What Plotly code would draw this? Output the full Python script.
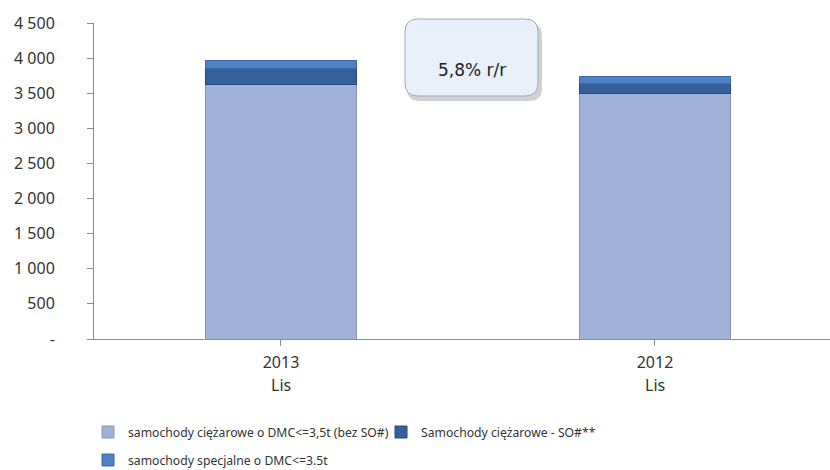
import plotly.graph_objects as go

years = ["2013", "2012"]
months = ["Lis", "Lis"]
series_names = [
    "samochody ciężarowe o DMC<=3,5t (bez SO#)",
    "Samochody ciężarowe - SO#**",
    "samochody specjalne o DMC<=3.5t",
]
light_vals = [3620, 3500]
so_vals = [235, 145]
spec_vals = [105, 98]
tick_vals = [0, 500, 1000, 1500, 2000, 2500, 3000, 3500, 4000, 4500]
tick_text = ["-", "500", "1 000", "1 500", "2 000", "2 500", "3 000", "3 500", "4 000", "4 500"]
box_text = "5,8% r/r"

W, H = 830, 470
L, R, T, B = 94, 0, 23, 131
PW, PH = W - L - R, H - T - B

def pp(x, y):
    return ((x - L) / PW, (H - B - y) / PH)

def rrect(x0, y0, x1, y1, r):
    def P(x, y):
        a, b = pp(x, y)
        return f"{a:.5f},{b:.5f}"
    return (f"M {P(x0+r,y0)} L {P(x1-r,y0)} Q {P(x1,y0)} {P(x1,y0+r)} "
            f"L {P(x1,y1-r)} Q {P(x1,y1)} {P(x1-r,y1)} L {P(x0+r,y1)} "
            f"Q {P(x0,y1)} {P(x0,y1-r)} L {P(x0,y0+r)} Q {P(x0,y0)} {P(x0+r,y0)} Z")

font = "Noto Sans"
fig = go.Figure()
colors = ["#A0B2D7", "#34609B", "#4F81C7"]
lines = ["#8494B5", "#27497A", "#3D6AAA"]
vals = [light_vals, so_vals, spec_vals]
legends = ["legend", "legend2", "legend3"]
for name, v, c, lc, lg in zip(series_names, vals, colors, lines, legends):
    fig.add_trace(go.Bar(x=[0, 1], y=v, name=name, marker=dict(color=c, line=dict(color=lc, width=1)),
                         width=0.406, legend=lg))

leg_common = dict(orientation="h", xref="container", yref="container", xanchor="left",
                  yanchor="middle", font=dict(size=12.2, color="#333333"), itemwidth=30,
                  bgcolor="rgba(0,0,0,0)")

fig.update_layout(
    barmode="stack",
    width=W, height=H,
    margin=dict(l=L, r=R, t=T, b=B, autoexpand=False),
    plot_bgcolor="white", paper_bgcolor="white",
    font=dict(family=font, size=15, color="#333333"),
    xaxis=dict(range=[-0.5, 1.468], tickvals=[0, 1], ticktext=years, showline=True,
               linecolor="#8C8C8C", linewidth=1, ticks="outside", tickson="boundaries",
               ticklen=6, tickcolor="#8C8C8C", showgrid=False, zeroline=False, automargin=False,
               ticklabelstandoff=3, tickfont=dict(size=16, color="#333333")),
    yaxis=dict(range=[0, 4500], tickvals=tick_vals, ticktext=tick_text, showline=True,
               linecolor="#8C8C8C", linewidth=1, ticks="outside", ticklen=6, tickcolor="#8C8C8C",
               showgrid=False, zeroline=False, ticklabelstandoff=29, automargin=False,
               tickfont=dict(size=16, color="#333333")),
    legend=dict(leg_common, x=88 / W, y=1 - 432 / H),
    legend2=dict(leg_common, x=381 / W, y=1 - 432 / H),
    legend3=dict(leg_common, x=88 / W, y=1 - 460 / H),
    showlegend=True,
)

for i, m in enumerate(months):
    fig.add_annotation(x=i, y=pp(0, 385)[1], xref="x", yref="paper", text=m, showarrow=False,
                       font=dict(size=16, color="#333333"), yanchor="middle")

# callout box with shadow
fig.add_shape(type="path", path=rrect(407, 23, 542, 101, 13), xref="paper", yref="paper",
              fillcolor="rgba(0,0,0,0.18)", line=dict(width=0), layer="above")
fig.add_shape(type="path", path=rrect(405, 19, 538, 96, 13), xref="paper", yref="paper",
              fillcolor="#E9F0FA", line=dict(color="#9AAAC4", width=1), layer="above")
cx, cy = pp(471.5, 58)
fig.add_annotation(x=cx, y=cy, xref="paper", yref="paper", text=box_text, showarrow=False,
                   font=dict(family="DejaVu Sans", size=17, color="#222222"))

fig.write_html("out.html", config={"displayModeBar": False},
               post_script="document.body.style.margin='0';document.body.style.overflow='hidden';")
